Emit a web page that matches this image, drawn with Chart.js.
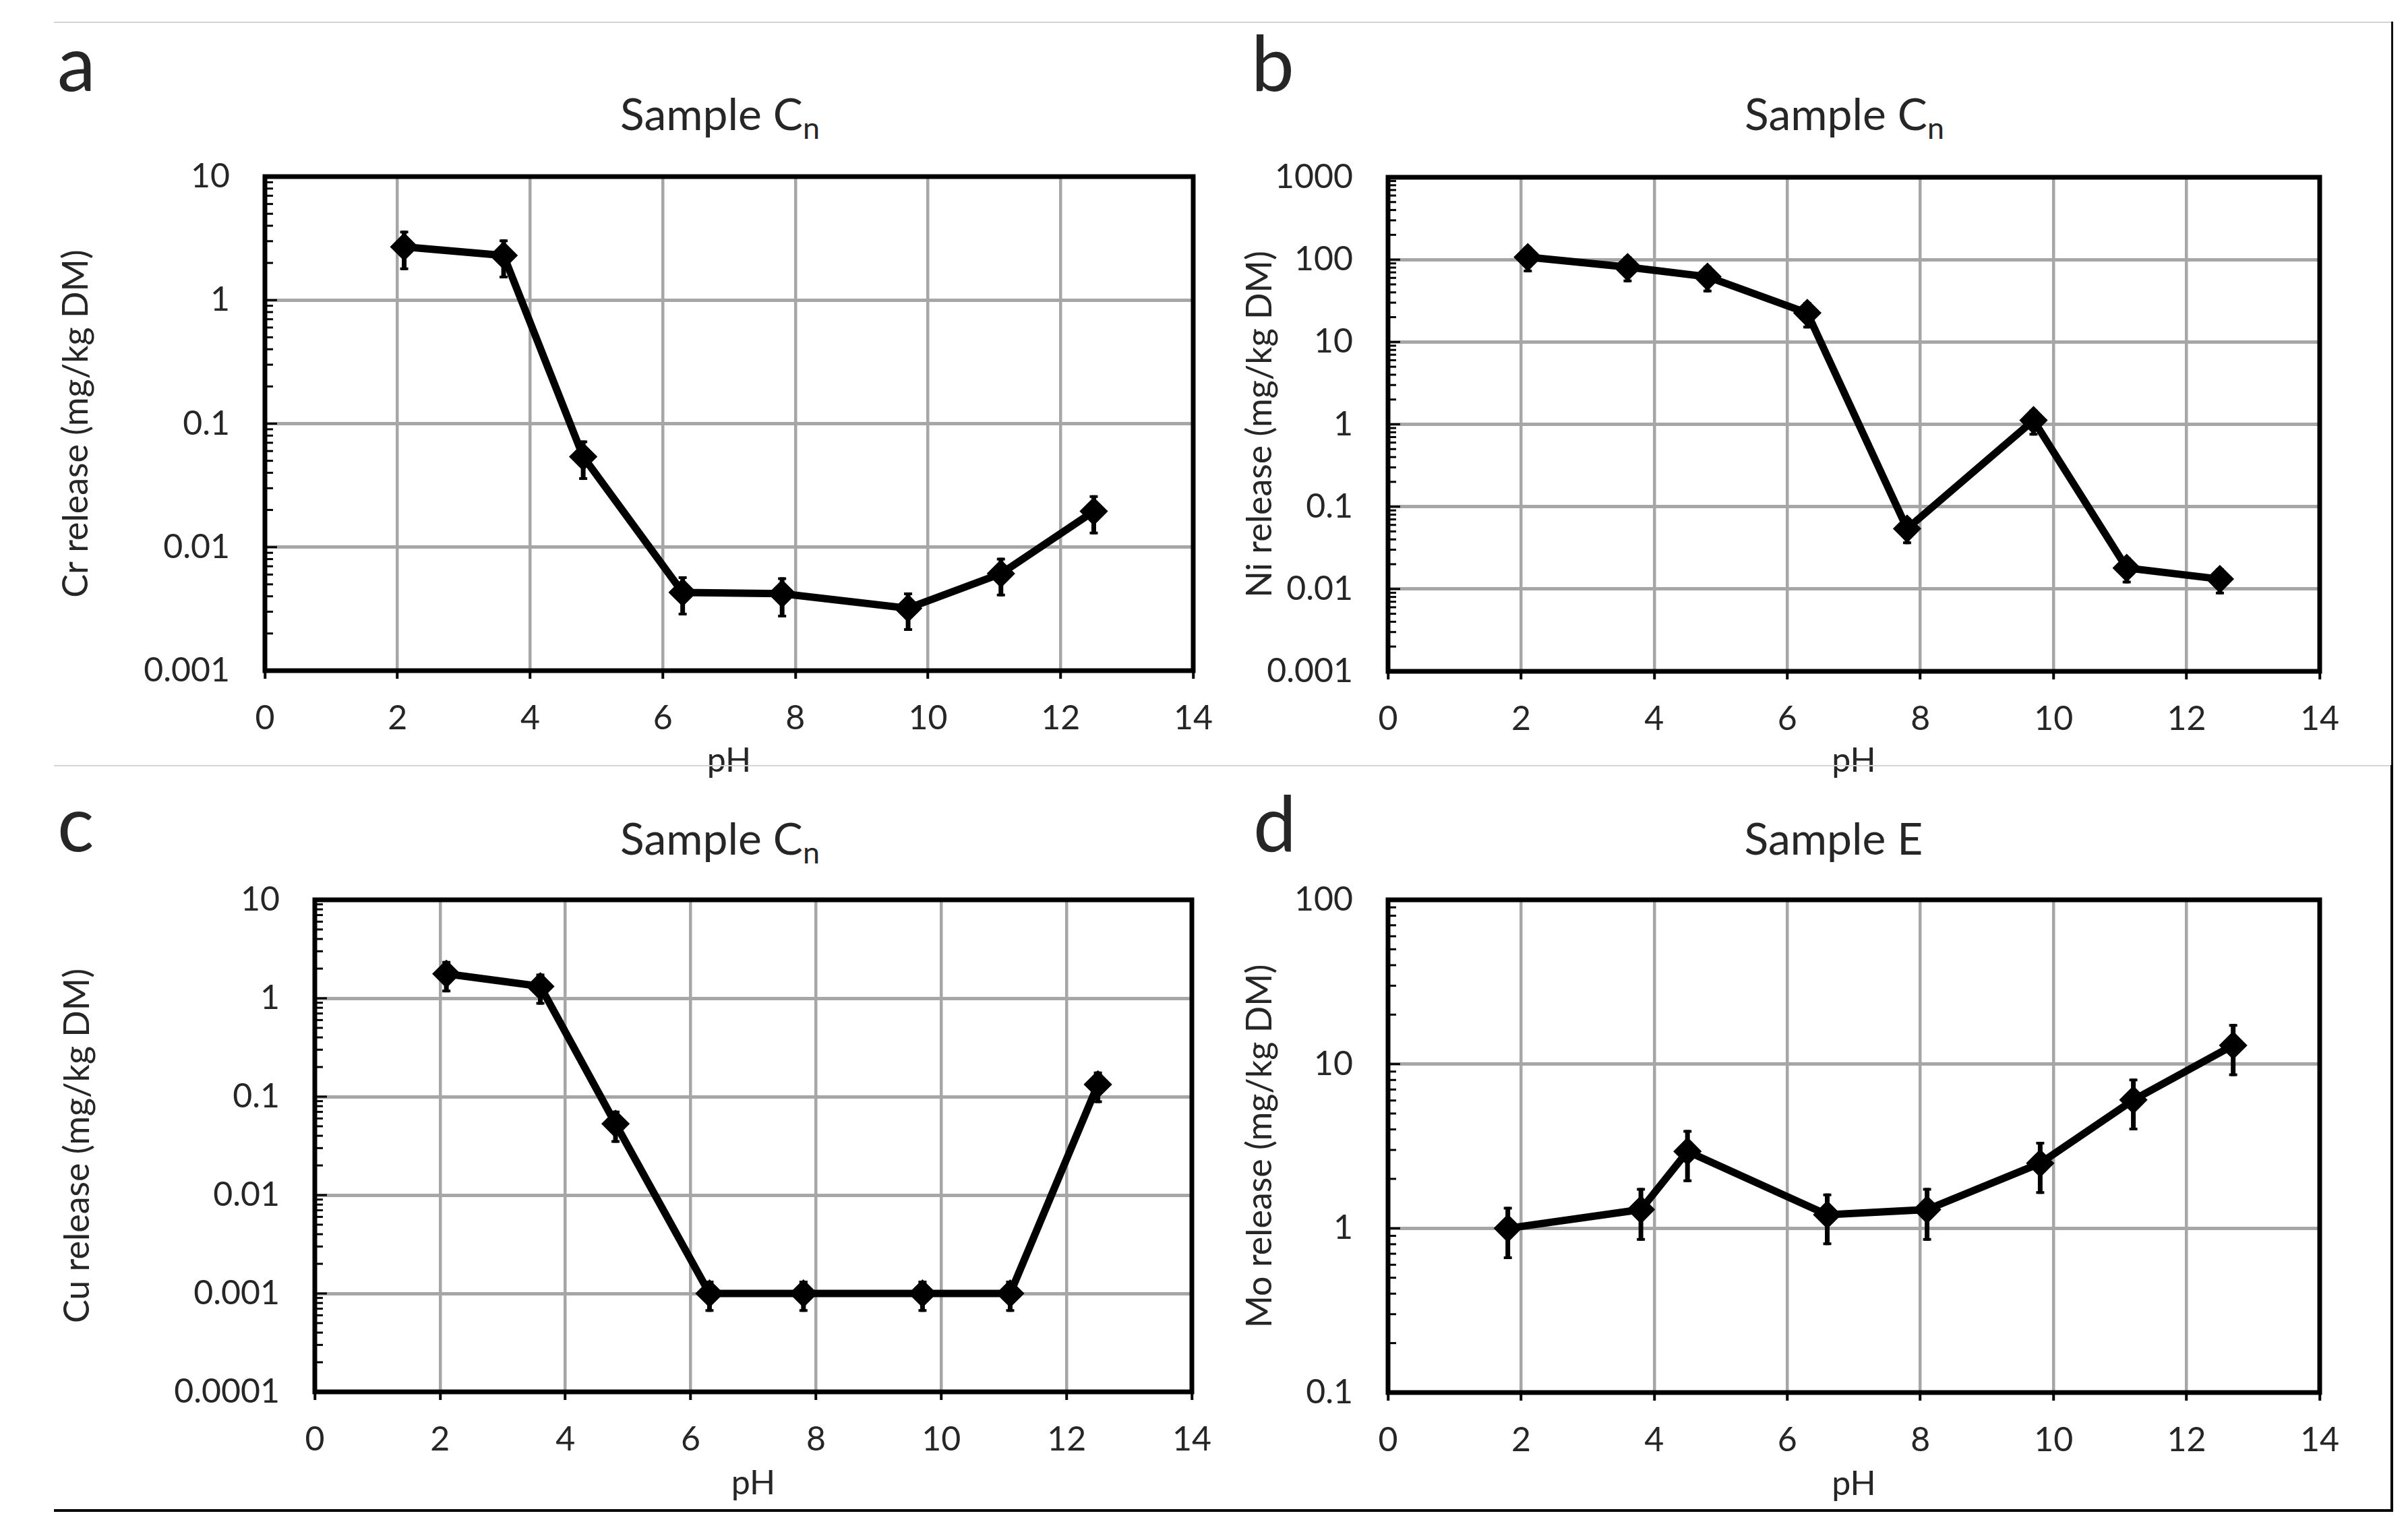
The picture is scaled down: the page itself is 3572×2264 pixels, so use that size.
<!DOCTYPE html>
<html><head><meta charset="utf-8">
<script src="https://cdn.jsdelivr.net/npm/chart.js"></script>
<style>
html,body{margin:0;padding:0;background:#fff;}
body{width:3572px;height:2264px;position:relative;overflow:hidden;font-family:Lato,sans-serif;color:#262626;}
.cv{position:absolute;}
.title{position:absolute;font-size:66px;line-height:66px;white-space:nowrap;transform:translateX(-50%);}
.title .sub{font-size:0.68em;position:relative;top:0.3em;}
.letter{position:absolute;font-size:114px;line-height:114px;}
.rule{position:absolute;z-index:5;}
</style></head><body>

<div class="rule" style="left:80px;top:32px;width:3468px;height:2px;background:#d4d4d4"></div>
<div class="rule" style="left:80px;top:1135px;width:3468px;height:2px;background:#d4d4d4"></div>
<div class="rule" style="left:3547px;top:32px;width:3px;height:1104px;background:#111"></div>
<div class="rule" style="left:3546px;top:1135px;width:4px;height:1108px;background:#000"></div>
<div class="rule" style="left:80px;top:2239px;width:3470px;height:4px;background:#000"></div>

<div class="letter" style="left:85px;top:34px">a</div>
<div class="letter" style="left:1856px;top:34px">b</div>
<div class="letter" style="left:85px;top:1162px">c</div>
<div class="letter" style="left:1859px;top:1162px">d</div>

<div class="title" style="left:1068px;top:135px">Sample C<span class="sub">n</span></div>
<div class="title" style="left:2736px;top:135px">Sample C<span class="sub">n</span></div>
<div class="title" style="left:1068px;top:1210px">Sample C<span class="sub">n</span></div>
<div class="title" style="left:2720px;top:1210px">Sample E</div>

<canvas id="cA" class="cv" width="1840" height="1020" style="left:0px;top:150px;width:1840px;height:1020px"></canvas>
<canvas id="cB" class="cv" width="1780" height="1020" style="left:1780px;top:150px;width:1780px;height:1020px"></canvas>
<canvas id="cC" class="cv" width="1840" height="1045" style="left:0px;top:1200px;width:1840px;height:1045px"></canvas>
<canvas id="cD" class="cv" width="1780" height="1045" style="left:1780px;top:1200px;width:1780px;height:1045px"></canvas>

<script>
// ---- data ----
const xTickLabels = ['0','2','4','6','8','10','12','14'];

const phCr = [2.1, 3.6, 4.8, 6.3, 7.8, 9.7, 11.1, 12.5];
const crRelease = [2.7, 2.3, 0.054, 0.0043, 0.0042, 0.0032, 0.0061, 0.0195];
const crError = [0.95, 0.8, 0.019, 0.0015, 0.0015, 0.0011, 0.0021, 0.0068];
const yTicksCr = ['0.001','0.01','0.1','1','10'];

const phNi = [2.1, 3.6, 4.8, 6.3, 7.8, 9.7, 11.1, 12.5];
const niRelease = [107, 81, 62, 22.5, 0.054, 1.12, 0.018, 0.0132];
const niError = [37, 28, 22, 7.9, 0.019, 0.39, 0.0063, 0.0046];
const yTicksNi = ['0.001','0.01','0.1','1','10','100','1000'];

const phCu = [2.1, 3.6, 4.8, 6.3, 7.8, 9.7, 11.1, 12.5];
const cuRelease = [1.77, 1.32, 0.053, 0.001, 0.001, 0.001, 0.001, 0.133];
const cuError = [0.62, 0.46, 0.019, 0.00035, 0.00035, 0.00035, 0.00035, 0.047];
const yTicksCu = ['0.0001','0.001','0.01','0.1','1','10'];

const phMo = [1.8, 3.8, 4.5, 6.6, 8.1, 9.8, 11.2, 12.7];
const moRelease = [1.0, 1.3, 2.94, 1.21, 1.3, 2.49, 6.05, 13.0];
const moError = [0.35, 0.46, 1.03, 0.42, 0.46, 0.87, 2.1, 4.55];
const yTicksMo = ['0.1','1','10','100'];

// ---- plugins ----
const framePlugin = {
  id: 'frame',
  beforeDatasetsDraw(chart) {
    const {ctx, chartArea: a, scales: {y}} = chart;
    ctx.save();
    ctx.strokeStyle = '#000';
    ctx.lineWidth = 3;
    const e0 = Math.round(Math.log10(y.min)), e1 = Math.round(Math.log10(y.max));
    for (let e = e0; e < e1; e++) {
      for (let m = 1; m <= 9; m++) {
        const py = y.getPixelForValue(m * Math.pow(10, e));
        const len = m === 1 ? 18 : 12;
        ctx.beginPath(); ctx.moveTo(a.left, py); ctx.lineTo(a.left + len, py); ctx.stroke();
      }
    }
    ctx.lineWidth = 7;
    ctx.strokeRect(a.left, a.top, a.right - a.left, a.bottom - a.top);
    ctx.restore();
  }
};
const errorBarPlugin = {
  id: 'errorBars',
  beforeDatasetsDraw(chart) {
    const {ctx, scales: {x, y}} = chart;
    chart.data.datasets.forEach(ds => {
      if (!ds.errors) return;
      ctx.save();
      ctx.strokeStyle = '#000';
      ds.data.forEach((p, i) => {
        const px = x.getPixelForValue(p.x);
        const pt = y.getPixelForValue(p.y + ds.errors[i]);
        const pb = y.getPixelForValue(p.y - ds.errors[i]);
        ctx.lineWidth = 7;
        ctx.beginPath(); ctx.moveTo(px, pt); ctx.lineTo(px, pb); ctx.stroke();
        ctx.lineWidth = 4;
        ctx.beginPath(); ctx.moveTo(px - 6, pt + 2); ctx.lineTo(px + 6, pt + 2);
        ctx.moveTo(px - 6, pb - 2); ctx.lineTo(px + 6, pb - 2); ctx.stroke();
      });
      ctx.restore();
    });
  }
};

Chart.defaults.font.family = 'Lato';
Chart.defaults.color = '#262626';

function makePanel(id, ph, vals, errs, yLabels, yTitle, pad, yW, xH) {
  const pts = ph.map((p, i) => ({x: p, y: vals[i]}));
  new Chart(document.getElementById(id), {
    type: 'scatter',
    data: {datasets: [{
      data: pts, errors: errs, showLine: true,
      borderColor: '#000', borderWidth: 11, tension: 0,
      pointStyle: 'rectRot', pointRadius: 19, pointBorderWidth: 3,
      pointBackgroundColor: '#000', pointBorderColor: '#000'
    }]},
    options: {
      responsive: false, animation: false, devicePixelRatio: 1,
      layout: {padding: pad},
      plugins: {legend: {display: false}, tooltip: {enabled: false}, title: {display: false}},
      scales: {
        x: {
          type: 'linear', min: 0, max: 14,
          ticks: {stepSize: 2, padding: 29, font: {size: 50}, color: '#262626',
                  callback: (v, i) => xTickLabels[i]},
          grid: {color: '#a6a6a6', lineWidth: 4.5, tickColor: '#000', tickWidth: 4, tickLength: 12},
          border: {display: false},
          title: {display: true, text: 'pH', font: {size: 50}, color: '#262626', padding: 0},
          afterFit: s => { s.height = xH; }
        },
        y: {
          type: 'logarithmic',
          min: Number(yLabels[0]), max: Number(yLabels[yLabels.length - 1]),
          afterBuildTicks: s => { s.ticks = yLabels.map(l => ({value: Number(l)})); },
          ticks: {padding: 52, font: {size: 50}, color: '#262626', autoSkip: false,
                  callback: (v, i) => yLabels[i]},
          grid: {color: '#a6a6a6', lineWidth: 5, drawTicks: false},
          border: {display: false},
          title: {display: true, text: yTitle, font: {size: 52}, color: '#262626', padding: 0},
          afterFit: s => { s.width = yW; }
        }
      }
    },
    plugins: [framePlugin, errorBarPlugin]
  });
}

makePanel('cA', phCr, crRelease, crError, yTicksCr, 'Cr release (mg/kg DM)',
  {left: 82, top: 112, right: 70, bottom: 11}, 311, 164);
makePanel('cB', phNi, niRelease, niError, yTicksNi, 'Ni release (mg/kg DM)',
  {left: 58, top: 113, right: 119, bottom: 11}, 221, 163);
makePanel('cC', phCu, cuRelease, cuError, yTicksCu, 'Cu release (mg/kg DM)',
  {left: 84, top: 135, right: 72, bottom: 14}, 383, 166);
makePanel('cD', phMo, moRelease, moError, yTicksMo, 'Mo release (mg/kg DM)',
  {left: 58, top: 135, right: 119, bottom: 13}, 221, 166);
</script>
</body></html>
